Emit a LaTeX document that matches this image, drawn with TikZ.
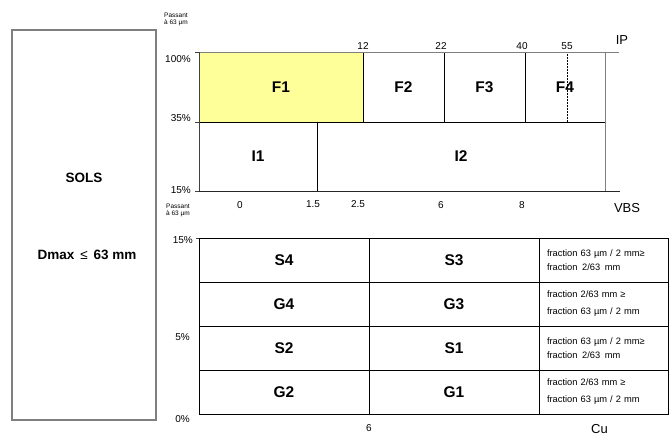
\documentclass[tikz,border=0pt]{standalone}
\usepackage{fontspec}
\setmainfont{Liberation Sans}
\usetikzlibrary{positioning}
\definecolor{fone}{HTML}{FFFF99}
\definecolor{axisgray}{HTML}{7F7F7F}

\begin{document}
\begin{tikzpicture}[x=1pt,y=-1pt,
  cell/.style={draw=black,line width=0.8pt,inner sep=0pt,outer sep=0pt,
               font=\fontsize{15.5}{17}\selectfont\bfseries},
  note/.style={draw=black,line width=0.8pt,inner sep=0pt,outer sep=0pt,
               minimum width=129,minimum height=44,text width=113,align=left,
               font=\fontsize{9.3}{14}\selectfont},
  axis/.style={draw=axisgray,line width=1pt},
  num/.style={font=\fontsize{10}{12}\selectfont,inner sep=1pt},
  pct/.style={font=\fontsize{10}{12}\selectfont,inner sep=0pt,anchor=east},
  tiny/.style={font=\fontsize{6.5}{7}\selectfont,align=left,inner sep=0pt},
  axlbl/.style={font=\fontsize{13}{15}\selectfont,inner sep=0pt}
]
\useasboundingbox (0,0) rectangle (672,439);

% left box
\node[draw=axisgray,line width=1.3pt,minimum width=144,minimum height=390,
      inner sep=0pt] (sols) at (84,225) {};
\node[font=\fontsize{13.5}{15}\selectfont\bfseries] (solst) at (84,178) {SOLS};
\node[font=\fontsize{13.5}{15}\selectfont\bfseries] (dmax) at (87,255)
     {Dmax\, {\mdseries ≤} \,63 mm};

% top chart: IP classes
\node[cell,fill=fone,minimum width=164,minimum height=70] (f1) at (281,87) {F1};
\node[cell,minimum width=81,minimum height=70,right=0pt of f1] (f2) {F2};
\node[cell,minimum width=81,minimum height=70,right=0pt of f2] (f3) {F3};
\node[cell,minimum width=80,minimum height=70,right=0pt of f3] (f4) {F4};
\node[cell,minimum width=118,minimum height=69] (i1) at (258,156.5) {I1};
\node[cell,minimum width=288,minimum height=69,right=0pt of i1] (i2) {I2};
\draw[densely dotted,line width=0.5pt] (567,52) -- (567,122);
\draw[axis] (199,52) -- (619,52);
\draw[axis] (605,52) -- (605,191);
\draw[axis,draw=black!85] (199,191) -- (620,191);
\draw[axis,draw=black!75] (199,52) -- (199,191);
\foreach \yy in {52,122,191}
  \draw[axis,draw=black!75] (195,\yy) -- (199,\yy);

\node[num,above=1pt of f1.north east] (t12) {12};
\node[num,above=1pt of f2.north east,xshift=-3pt] (t22) {22};
\node[num,above=1pt of f3.north east,xshift=-3pt] (t40) {40};
\node[num] (t55) at (567,46) {55};
\node[axlbl] (ip) at (622,40) {IP};

\node[pct] (p100) at (191,59) {100\%};
\node[pct] (p35) at (191,118) {35\%};
\node[pct] (p15) at (191,190) {15\%};
\node[tiny] (pas1) at (176,19) {Passant\\à 63 µm};

\node[num] (v0) at (240,205) {0};
\node[num] (v15) at (313,204) {1.5};
\node[num] (v25) at (358,204) {2.5};
\node[num] (v6) at (441,205) {6};
\node[num] (v8) at (522,205) {8};
\node[axlbl] (vbs) at (627,208) {VBS};
\node[tiny] (pas2) at (178,210) {Passant\\à 63 µm};

% bottom chart: S and G classes
\node[cell,minimum width=170,minimum height=44] (s4) at (284,260) {S4};
\node[cell,minimum width=170,minimum height=44,right=0pt of s4] (s3) {S3};
\node[cell,minimum width=170,minimum height=44,below=0pt of s4] (g4) {G4};
\node[cell,minimum width=170,minimum height=44,right=0pt of g4] (g3) {G3};
\node[cell,minimum width=170,minimum height=44,below=0pt of g4] (s2) {S2};
\node[cell,minimum width=170,minimum height=44,right=0pt of s2] (s1) {S1};
\node[cell,minimum width=170,minimum height=44,below=0pt of s2] (g2) {G2};
\node[cell,minimum width=170,minimum height=44,right=0pt of g2] (g1) {G1};
\draw[axis,draw=black!75] (196,238) -- (199,238);

\node[note,right=0pt of s3] (n1)
     {fraction 63 µm / 2 mm≥\\fraction\, 2/63\, mm};
\node[note,right=0pt of g3] (n2)
     {fraction 2/63 mm ≥\\[3pt]fraction 63 µm / 2 mm};
\node[note,right=0pt of s1] (n3)
     {fraction 63 µm / 2 mm≥\\fraction\, 2/63\, mm};
\node[note,right=0pt of g1] (n4)
     {fraction 2/63 mm ≥\\[3pt]fraction 63 µm / 2 mm};

\node[pct] (q15) at (193,240) {15\%};
\node[pct] (q5) at (190,337) {5\%};
\node[pct] (q0) at (190,419) {0\%};
\node[num,below=9pt of g2.south east] (c6) {6};
\node[axlbl,below=10pt of n4,xshift=-4pt] (cu) {Cu};
\end{tikzpicture}
\end{document}
